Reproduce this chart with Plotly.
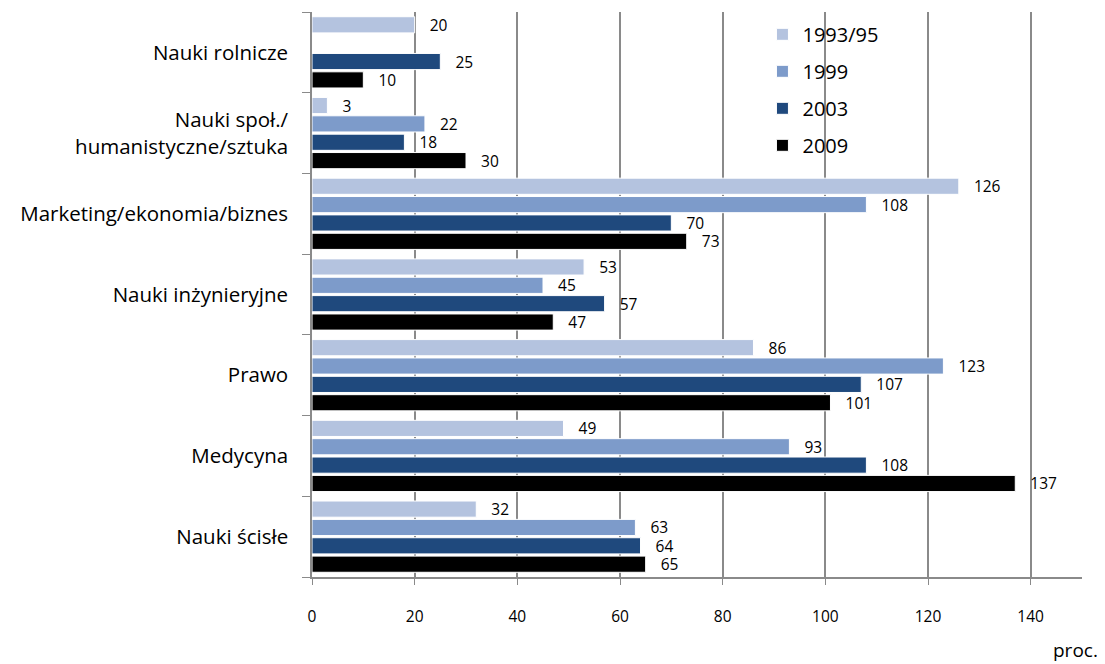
import plotly.graph_objects as go

# categories listed bottom -> top
categories = [
    "Nauki ścisłe",
    "Medycyna",
    "Prawo",
    "Nauki inżynieryjne",
    "Marketing/ekonomia/biznes",
    "Nauki społ./<br>humanistyczne/sztuka",
    "Nauki rolnicze",
]
v_1993 = [32, 49, 86, 53, 126, 3, 20]
v_1999 = [63, 93, 123, 45, 108, 22, None]
v_2003 = [64, 108, 107, 57, 70, 18, 25]
v_2009 = [65, 137, 101, 47, 73, 30, 10]

series = [
    ("2009", v_2009, "#000000", 4),
    ("2003", v_2003, "#1f497d", 3),
    ("1999", v_1999, "#7d9bca", 2),
    ("1993/95", v_1993, "#b4c3df", 1),
]

FONT = "Open Sans"

fig = go.Figure()
for name, vals, color, rank in series:
    fig.add_trace(go.Bar(
        y=categories, x=vals, name=name, orientation="h",
        legendgroup=name, legendrank=rank,
        marker=dict(color=color, line=dict(color="white", width=1)),
        text=[f"   {v}" if v is not None else "" for v in vals],
        textposition="outside", constraintext="none",
        textfont=dict(family=FONT, size=15.5, color="black"),
        cliponaxis=False,
        hoverinfo="x+name",
    ))

# the page body adds an 8px margin, so the figure is sized to fit the window
fig.update_layout(
    width=1097, height=656,
    margin=dict(l=304, r=23, t=4, b=87),
    barmode="group", bargap=0.09, bargroupgap=0.12,
    plot_bgcolor="white", paper_bgcolor="white",
    font=dict(family=FONT, color="black"),
    legend=dict(
        x=0.585, y=0.995, xanchor="left", yanchor="top",
        traceorder="grouped", tracegroupgap=8,
        bgcolor="rgba(0,0,0,0)",
        font=dict(family=FONT, size=20), itemwidth=30,
    ),
    xaxis=dict(
        range=[0, 150], tickvals=[0, 20, 40, 60, 80, 100, 120, 140],
        showgrid=True, gridcolor="#8a8a8a", gridwidth=1.5,
        showline=True, linecolor="#8a8a8a", linewidth=1.5,
        ticks="outside", ticklen=6, tickcolor="#8a8a8a",
        tickfont=dict(family=FONT, size=15.5), ticklabelstandoff=19,
        zeroline=False,
    ),
    yaxis=dict(
        type="category", categoryorder="array", categoryarray=categories,
        showline=True, linecolor="#8a8a8a", linewidth=1.5,
        ticks="outside", ticklen=8, tickcolor="#8a8a8a", tickson="boundaries",
        tickfont=dict(family=FONT, size=20.5), ticklabelstandoff=18,
        showgrid=False,
    ),
    annotations=[dict(
        text="proc.", x=1, y=0, xref="paper", yref="paper",
        xanchor="right", yanchor="middle", yshift=-73, xshift=18,
        showarrow=False, font=dict(family=FONT, size=19),
    )],
)

fig.write_html("out.html")
